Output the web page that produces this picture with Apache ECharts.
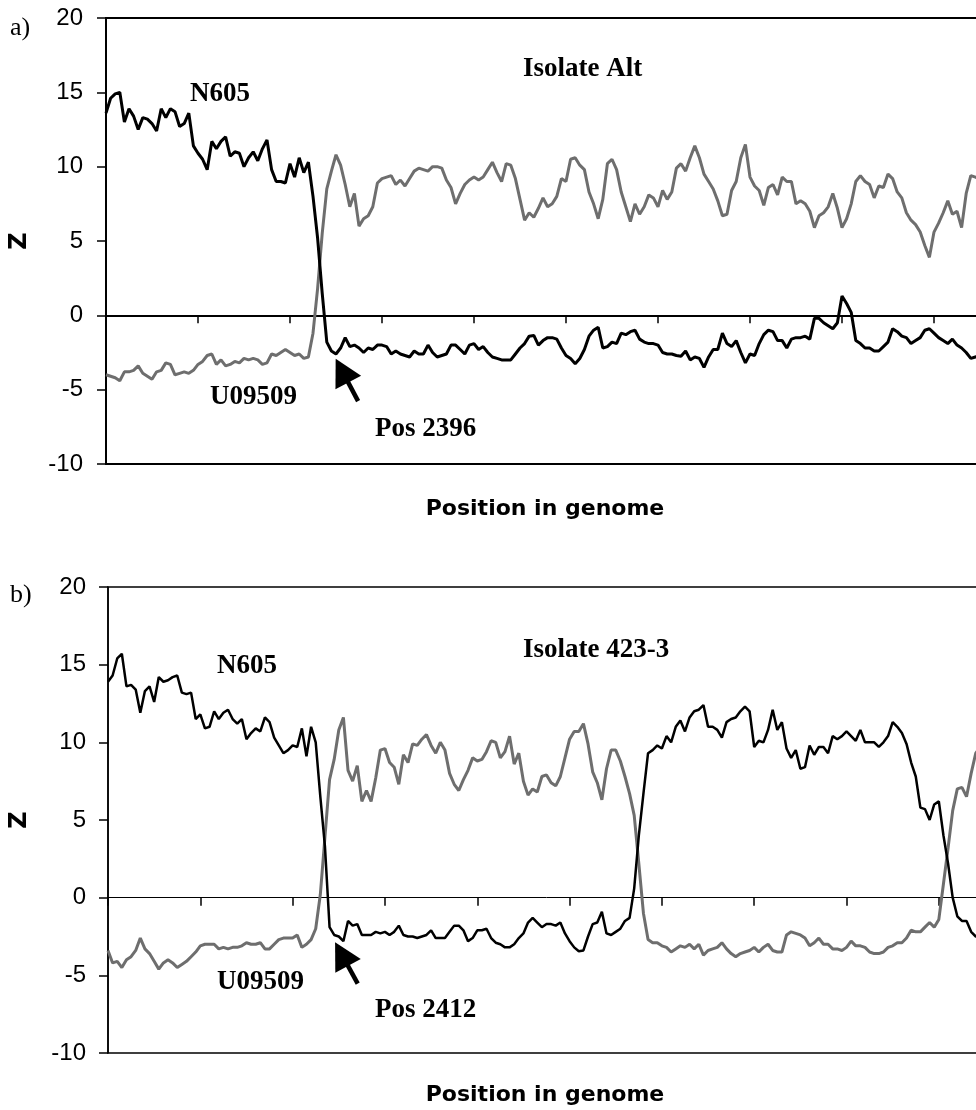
<!DOCTYPE html>
<html>
<head>
<meta charset="utf-8">
<script src="https://cdn.jsdelivr.net/npm/echarts@6.0.0/dist/echarts.min.js"></script>
<style>
html, body { margin: 0; padding: 0; background: #fff; overflow: hidden; }
#main { width: 1000px; height: 1110px; }
</style>
</head>
<body>
<div id="main"></div>
<script>
// Z scores along the genome, one value per window (panel a: isolate Alt)
var altN605 = [
  13.6, 14.6, 14.9, 15.0, 13.0, 13.9, 13.4, 12.5, 13.3, 13.2,
  12.9, 12.4, 13.9, 13.3, 13.9, 13.7, 12.7, 12.9, 13.6, 11.4,
  10.9, 10.5, 9.8, 11.7, 11.2, 11.7, 12.0, 10.7, 11.0, 10.9,
  10.0, 10.6, 11.0, 10.4, 11.2, 11.8, 9.8, 9.0, 9.0, 8.9,
  10.2, 9.3, 10.6, 9.6, 10.3, 8.0, 5.2, 1.5, -1.8, -2.4,
  -2.6, -2.2, -1.5, -2.1, -2.0, -2.2, -2.5, -2.2, -2.3, -2.0,
  -2.0, -2.1, -2.6, -2.4, -2.6, -2.7, -2.8, -2.4, -2.6, -2.6,
  -2.0, -2.5, -2.8, -2.7, -2.6, -2.0, -2.0, -2.3, -2.6, -2.0,
  -1.9, -2.3, -2.1, -2.5, -2.8, -2.9, -3.0, -3.0, -3.0, -2.6,
  -2.2, -1.9, -1.4, -1.35, -2.0, -1.7, -1.5, -1.5, -1.6, -2.2,
  -2.7, -2.9, -3.25, -2.9, -2.3, -1.4, -1.0, -0.8, -2.2, -2.1,
  -1.8, -1.9, -1.2, -1.3, -1.1, -1.0, -1.6, -1.8, -1.9, -1.9,
  -2.0, -2.5, -2.6, -2.6, -2.7, -2.75, -2.4, -3.0, -2.8, -2.9,
  -3.5, -2.8, -2.3, -2.3, -1.2, -1.9, -2.1, -1.7, -2.5, -3.2,
  -2.6, -2.7, -1.9, -1.3, -1.0, -1.1, -1.7, -1.7, -2.2, -1.6,
  -1.5, -1.5, -1.4, -1.6, -0.2, -0.2, -0.5, -0.7, -0.9, -0.5,
  1.3, 0.8, 0.2, -1.7, -1.9, -2.2, -2.2, -2.4, -2.4, -2.1,
  -1.8, -0.9, -1.1, -1.4, -1.5, -1.9, -1.7, -1.5, -1.0, -0.9,
  -1.2, -1.5, -1.7, -1.9, -1.6, -2.0, -2.2, -2.5, -2.9, -2.8,
  -2.7
]
var altU09509 = [
  -4.0, -4.1, -4.2, -4.4, -3.8, -3.8, -3.7, -3.4, -3.9, -4.1,
  -4.3, -3.8, -3.7, -3.2, -3.3, -4.0, -3.9, -3.8, -3.9, -3.7,
  -3.3, -3.1, -2.7, -2.6, -3.3, -3.0, -3.4, -3.3, -3.1, -3.2,
  -2.9, -3.0, -2.9, -3.0, -3.3, -3.2, -2.6, -2.7, -2.5, -2.3,
  -2.5, -2.7, -2.6, -2.9, -2.8, -1.2, 1.8, 5.5, 8.5, 9.7,
  10.8, 10.1, 8.8, 7.3, 8.2, 6.0, 6.5, 6.7, 7.3, 8.9,
  9.2, 9.3, 9.4, 8.8, 9.1, 8.7, 9.2, 9.7, 9.9, 9.8,
  9.7, 10.0, 10.0, 9.9, 9.1, 8.6, 7.5, 8.2, 8.8, 9.1,
  9.3, 9.1, 9.3, 9.8, 10.3, 9.6, 9.0, 10.2, 10.1, 9.2,
  7.8, 6.4, 6.9, 6.6, 7.2, 7.9, 7.3, 7.5, 8.0, 9.2,
  9.0, 10.5, 10.6, 10.1, 9.8, 8.3, 7.5, 6.5, 7.8, 10.2,
  10.5, 9.8, 8.3, 7.3, 6.3, 7.5, 6.8, 7.3, 8.1, 7.9,
  7.3, 8.4, 7.8, 8.3, 9.9, 10.2, 9.7, 10.6, 11.4, 10.6,
  9.5, 9.0, 8.5, 7.7, 6.7, 6.8, 8.4, 9.0, 10.6, 11.5,
  9.3, 8.7, 8.4, 7.4, 8.6, 8.8, 8.1, 9.3, 9.0, 9.0,
  7.5, 7.7, 7.5, 7.0, 5.9, 6.7, 6.9, 7.3, 8.2, 7.2,
  5.9, 6.5, 7.5, 9.0, 9.4, 9.0, 8.8, 7.9, 8.7, 8.6,
  9.5, 9.2, 8.3, 7.9, 6.9, 6.4, 6.1, 5.6, 4.7, 3.9,
  5.6, 6.2, 6.9, 7.7, 6.8, 7.0, 5.9, 8.2, 9.4, 9.3,
  9.1
]
// panel b: isolate 423-3
var i423N605 = [
  13.9, 14.3, 15.4, 15.7, 13.6, 13.7, 13.4, 11.9, 13.3, 13.6,
  12.6, 14.2, 13.9, 14.0, 14.2, 14.3, 13.2, 13.1, 13.2, 11.5,
  11.8, 10.9, 11.0, 12.0, 11.5, 11.9, 12.1, 11.5, 11.2, 11.5,
  10.2, 10.6, 10.9, 10.7, 11.6, 11.3, 10.3, 9.8, 9.3, 9.5,
  9.8, 9.7, 10.9, 9.1, 11.0, 10.0, 6.5, 3.3, -1.9, -2.4,
  -2.5, -2.8, -1.5, -1.8, -1.7, -2.4, -2.4, -2.4, -2.2, -2.3,
  -2.2, -2.4, -2.2, -1.8, -2.4, -2.5, -2.5, -2.6, -2.5, -2.4,
  -2.1, -2.6, -2.6, -2.6, -2.2, -1.8, -1.8, -2.1, -2.8, -2.6,
  -2.1, -2.1, -2.0, -2.6, -2.9, -3.0, -3.2, -3.2, -3.0, -2.6,
  -2.3, -1.6, -1.3, -1.6, -1.9, -1.7, -1.7, -1.8, -1.6, -2.3,
  -2.8, -3.2, -3.45, -3.4, -2.5, -1.7, -1.6, -0.9, -2.3, -2.4,
  -2.2, -2.0, -1.5, -1.3, 0.6, 4.0, 6.7, 9.3, 9.5, 9.8,
  9.6, 10.4, 10.0, 11.0, 11.4, 10.7, 11.6, 12.0, 12.1, 12.4,
  11.0, 11.0, 10.8, 10.3, 11.3, 11.5, 11.6, 12.0, 12.3, 12.0,
  9.7, 10.1, 10.0, 10.8, 12.1, 10.8, 11.3, 9.6, 9.0, 9.5,
  8.3, 8.4, 9.8, 9.2, 9.7, 9.7, 9.3, 10.4, 10.2, 10.4,
  10.7, 10.4, 10.1, 10.8, 10.0, 10.0, 10.0, 9.7, 10.0, 10.4,
  11.3, 11.0, 10.6, 9.9, 8.7, 7.8, 5.8, 5.7, 5.0, 6.0,
  6.2, 4.0, 2.2, 0.0, -1.2, -1.5, -1.5, -2.2, -2.5, -2.5,
  -2.5
]
var i423U09509 = [
  -3.4, -4.2, -4.1, -4.5, -4.0, -3.8, -3.4, -2.6, -3.3, -3.6,
  -4.1, -4.6, -4.2, -4.0, -4.2, -4.5, -4.3, -4.1, -3.8, -3.5,
  -3.1, -3.0, -3.0, -3.0, -3.3, -3.2, -3.3, -3.2, -3.2, -3.1,
  -2.9, -3.0, -3.0, -2.9, -3.3, -3.3, -3.0, -2.7, -2.6, -2.6,
  -2.6, -2.4, -3.2, -3.0, -2.7, -2.0, 0.2, 3.9, 7.6, 8.9,
  10.8, 11.6, 8.2, 7.5, 8.5, 6.2, 6.9, 6.2, 7.7, 9.5,
  9.6, 8.7, 8.4, 7.3, 9.2, 8.7, 9.9, 9.8, 10.2, 10.5,
  9.8, 9.3, 10.0, 9.5, 8.0, 7.3, 6.9, 7.6, 8.2, 9.0,
  8.8, 8.9, 9.4, 10.1, 10.0, 9.0, 9.4, 10.4, 8.6, 9.3,
  7.5, 6.6, 7.0, 6.8, 7.8, 7.9, 7.4, 7.2, 7.8, 9.0,
  10.2, 10.7, 10.7, 11.2, 9.9, 8.1, 7.4, 6.3, 8.3, 9.5,
  9.5, 8.8, 7.8, 6.7, 5.3, 2.2, -1.0, -2.7, -2.9, -2.9,
  -3.1, -3.2, -3.5, -3.3, -3.1, -3.2, -3.0, -3.3, -3.0, -3.7,
  -3.4, -3.3, -3.2, -2.9, -3.3, -3.6, -3.8, -3.6, -3.5, -3.4,
  -3.2, -3.5, -3.2, -3.0, -3.4, -3.5, -3.5, -2.4, -2.2, -2.3,
  -2.4, -2.6, -3.1, -2.9, -2.6, -3.0, -3.0, -3.3, -3.3, -3.4,
  -3.2, -2.8, -3.1, -3.1, -3.2, -3.5, -3.6, -3.6, -3.5, -3.2,
  -3.1, -2.9, -2.9, -2.6, -2.1, -2.2, -2.2, -1.9, -1.6, -1.9,
  -1.4, 0.9, 3.2, 5.6, 7.0, 7.1, 6.5, 8.0, 9.3, 9.7,
  10.0
]
// breakpoint arrows, [tail, head] in [window, Z]
var arrowAlt = [[54.8, -5.77], [51.3, -3.72]]
var arrow423 = [[54.1, -5.53], [50.6, -3.63]]

var myChart = echarts.init(document.getElementById('main'))

function pairs(arr) {
  return arr.map(function (v, i) { return [i, v] })
}

function xAxis(gridIndex, w) {
  return {
    type: 'value',
    gridIndex: gridIndex,
    min: 0,
    max: 190,
    interval: 20,
    axisLine: { onZero: true, lineStyle: { color: '#000', width: w } },
    axisTick: { show: true, length: 8, lineStyle: { color: '#000', width: 1.5 } },
    axisLabel: { show: false },
    splitLine: { show: false }
  }
}

function yAxis(gridIndex, margin, w) {
  return {
    type: 'value',
    gridIndex: gridIndex,
    min: -10,
    max: 20,
    interval: 5,
    axisLine: { show: true, onZero: false, lineStyle: { color: '#000', width: w } },
    axisTick: { show: true, length: 9, lineStyle: { color: '#000', width: 1.5 } },
    axisLabel: { margin: margin, color: '#000', fontFamily: 'Liberation Sans', fontSize: 24 },
    splitLine: { show: false }
  }
}

function arrowLine(coords) {
  return {
    silent: true,
    symbol: ['none', 'triangle'],
    symbolSize: [29, 27],
    lineStyle: { color: '#000', width: 4.5, type: 'solid' },
    itemStyle: { color: '#000' },
    label: { show: false },
    data: [[{ coord: coords[0] }, { coord: coords[1] }]]
  }
}

function serifText(x, y, text) {
  return {
    type: 'text', x: x, y: y,
    style: {
      text: text, fill: '#000', fontFamily: 'Liberation Serif', fontWeight: 'bold',
      fontSize: 27, align: 'left', verticalAlign: 'middle'
    }
  }
}

function label(x, y, text) {
  return {
    type: 'text', x: x, y: y,
    style: {
      text: text, fill: '#000', fontFamily: 'Liberation Serif',
      fontSize: 26, align: 'left', verticalAlign: 'middle'
    }
  }
}

function xTitle(y) {
  return {
    type: 'text', x: 545, y: y,
    style: {
      text: 'Position in genome', fill: '#000', fontFamily: 'DejaVu Sans', fontWeight: 'bold',
      fontSize: 22, align: 'center', verticalAlign: 'middle'
    }
  }
}

function zTitle(y) {
  return {
    type: 'text', x: 20, y: y, rotation: Math.PI / 2,
    style: {
      text: 'Z', fill: '#000', fontFamily: 'DejaVu Sans', fontWeight: 'bold',
      fontSize: 24, align: 'center', verticalAlign: 'middle'
    }
  }
}

myChart.setOption({
  animation: false,
  backgroundColor: '#fff',
  grid: [
    { left: 106, top: 18, width: 874, height: 446, show: true, borderColor: '#000', borderWidth: 2, outerBoundsMode: 'none' },
    { left: 108, top: 587, width: 877, height: 466, show: true, borderColor: '#000', borderWidth: 1.5, outerBoundsMode: 'none' }
  ],
  xAxis: [xAxis(0, 2), xAxis(1, 1)],
  yAxis: [yAxis(0, 23, 2), yAxis(1, 22, 1.5)],
  series: [
    {
      name: 'U09509', type: 'line', xAxisIndex: 0, yAxisIndex: 0,
      data: pairs(altU09509), showSymbol: false, symbol: 'none',
      lineStyle: { color: '#6e6e6e', width: 3 }, z: 2
    },
    {
      name: 'N605', type: 'line', xAxisIndex: 0, yAxisIndex: 0,
      data: pairs(altN605), showSymbol: false, symbol: 'none',
      lineStyle: { color: '#000', width: 3 }, z: 3,
      markLine: arrowLine(arrowAlt)
    },
    {
      name: 'U09509', type: 'line', xAxisIndex: 1, yAxisIndex: 1,
      data: pairs(i423U09509), showSymbol: false, symbol: 'none',
      lineStyle: { color: '#6e6e6e', width: 3 }, z: 2
    },
    {
      name: 'N605', type: 'line', xAxisIndex: 1, yAxisIndex: 1,
      data: pairs(i423N605), showSymbol: false, symbol: 'none',
      lineStyle: { color: '#000', width: 2.5 }, z: 3,
      markLine: arrowLine(arrow423)
    }
  ],
  graphic: [
    label(10, 28, 'a)'),
    serifText(190, 94, 'N605'),
    serifText(523, 69, 'Isolate Alt'),
    serifText(210, 397, 'U09509'),
    serifText(375, 429, 'Pos 2396'),
    xTitle(509),
    zTitle(241),
    label(10, 595, 'b)'),
    serifText(217, 666, 'N605'),
    serifText(523, 650, 'Isolate 423-3'),
    serifText(217, 982, 'U09509'),
    serifText(375, 1010, 'Pos 2412'),
    xTitle(1095),
    zTitle(820)
  ]
})
</script>
</body>
</html>
